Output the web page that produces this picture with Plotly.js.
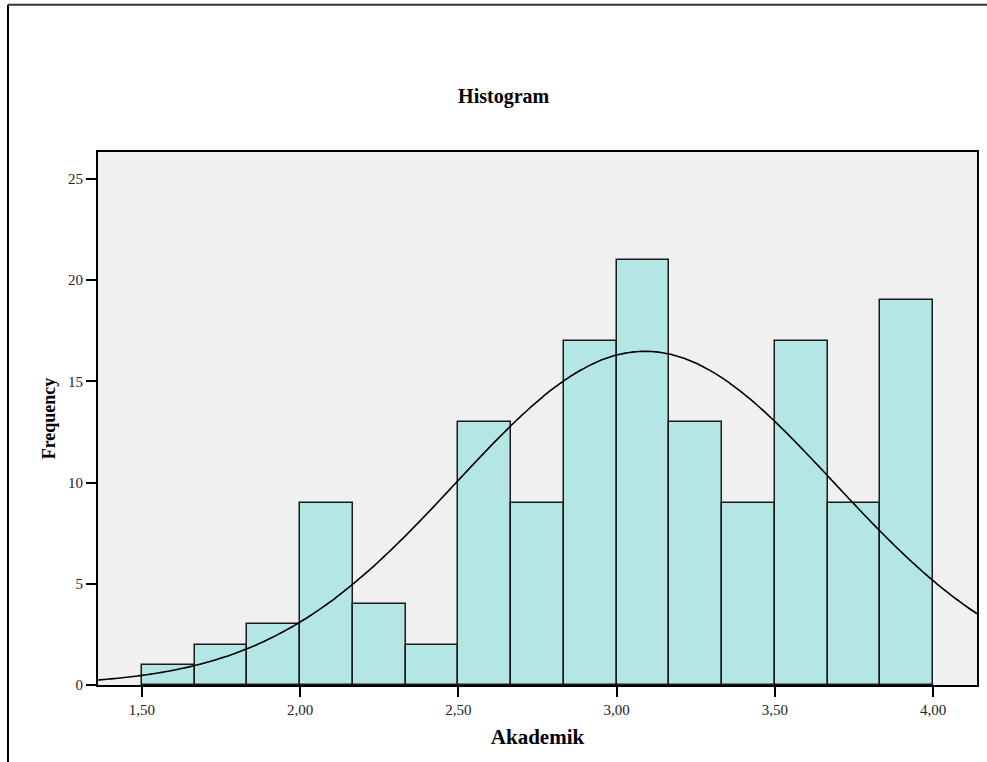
<!DOCTYPE html>
<html>
<head>
<meta charset="utf-8">
<script src="https://cdn.plot.ly/plotly-3.0.1.min.js"></script>
<style>
  html, body { margin: 0; padding: 0; background: #ffffff; }
  #chart { width: 987px; height: 762px; }
</style>
</head>
<body>
<div id="chart"></div>
<script>
// Bin edges (Akademik) and frequencies
const binStart = 1.5;
const binWidth = 2.5 / 15;
const frequencies = [1, 2, 3, 9, 4, 2, 13, 9, 17, 21, 13, 9, 17, 9, 19];

// Fitted normal curve parameters (as drawn by SPSS)
const curveMean = 3.09;
const curveSD = 0.597;

// Axis ticks
const xTickVals = [1.5, 2.0, 2.5, 3.0, 3.5, 4.0];
const xTickText = ["1,50", "2,00", "2,50", "3,00", "3,50", "4,00"];
const yTickVals = [0, 5, 10, 15, 20, 25];
const yTickText = ["0", "5", "10", "15", "20", "25"];

const xRange = [1.361, 4.139];
const yRange = [0, 26.33];

const binCenters = frequencies.map((_, i) => binStart + binWidth * (i + 0.5));
const totalN = frequencies.reduce((a, b) => a + b, 0);

const curveX = [];
const curveY = [];
const steps = 200;
for (let i = 0; i <= steps; i++) {
  const x = xRange[0] + (xRange[1] - xRange[0]) * i / steps;
  const z = (x - curveMean) / curveSD;
  curveX.push(x);
  curveY.push(totalN * binWidth * Math.exp(-0.5 * z * z) / (curveSD * Math.sqrt(2 * Math.PI)));
}

const serif = "Liberation Serif, Times New Roman, serif";

const traces = [
  {
    type: "bar",
    x: binCenters,
    y: frequencies,
    width: binWidth,
    marker: { color: "#b4e6e6", line: { color: "#1a1a1a", width: 1.5 } },
    hoverinfo: "x+y",
    showlegend: false
  },
  {
    type: "scatter",
    mode: "lines",
    x: curveX,
    y: curveY,
    line: { color: "#000000", width: 1.6, shape: "spline" },
    hoverinfo: "skip",
    showlegend: false
  }
];

const layout = {
  width: 987,
  height: 762,
  margin: { l: 98, r: 10, t: 152, b: 77 },
  paper_bgcolor: "#ffffff",
  plot_bgcolor: "#f0f0f0",
  bargap: 0,
  font: { family: serif, color: "#000000" },
  title: {
    text: "<b>Histogram</b>",
    font: { family: serif, size: 20, color: "#000000" },
    x: 0.4615, xref: "paper", xanchor: "center",
    y: 0.874, yref: "container", yanchor: "middle"
  },
  xaxis: {
    range: xRange,
    tickmode: "array",
    tickvals: xTickVals,
    ticktext: xTickText,
    ticks: "outside",
    ticklen: 10,
    tickwidth: 2,
    tickcolor: "#000000",
    tickfont: { family: serif, size: 15, color: "#222222" },
    showgrid: false,
    zeroline: false,
    showline: true,
    linecolor: "#000000",
    linewidth: 2,
    mirror: true,
    title: {
      text: "<b>Akademik</b>",
      font: { family: serif, size: 21, color: "#000000" },
      standoff: 12
    }
  },
  yaxis: {
    range: yRange,
    tickmode: "array",
    tickvals: yTickVals,
    ticktext: yTickText,
    ticks: "outside",
    ticklen: 10,
    tickwidth: 2,
    tickcolor: "#000000",
    tickfont: { family: serif, size: 15, color: "#222222" },
    showgrid: false,
    zeroline: false,
    showline: true,
    linecolor: "#000000",
    linewidth: 2,
    mirror: true,
    title: {
      text: "<b>Frequency</b>",
      font: { family: serif, size: 18, color: "#000000" },
      standoff: 8
    }
  },
  shapes: [
    {
      type: "line", xref: "paper", yref: "paper",
      x0: -0.1024, x1: -0.1024, y0: -0.2, y1: 1.2765,
      line: { color: "#000000", width: 2 }
    },
    {
      type: "line", xref: "paper", yref: "paper",
      x0: -0.1024, x1: 1.05, y0: 1.2765, y1: 1.2765,
      line: { color: "#333333", width: 2 }
    }
  ]
};

Plotly.newPlot("chart", traces, layout, { displayModeBar: false });
</script>
</body>
</html>
